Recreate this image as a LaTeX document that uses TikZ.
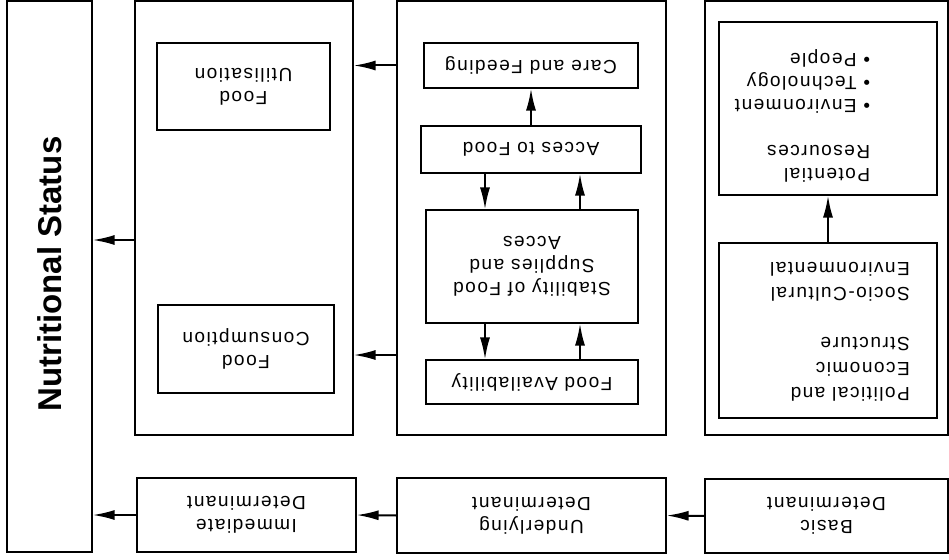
\documentclass[tikz,border=0pt]{standalone}
\usepackage{fontspec}
\setmainfont{Liberation Sans}
\newfontfamily\boxfont{Liberation Sans}[LetterSpace=8]
\usetikzlibrary{positioning,calc,arrows.meta}

\begin{document}
\begin{tikzpicture}[x=1pt, y=-1pt,
  panel/.style={draw=black, line width=1.2pt, inner sep=0pt},
  boxnode/.style={draw=black, line width=1.1pt, inner sep=0pt},
  lbl/.style={font=\boxfont\fontsize{19}{23}\selectfont, rotate=180, inner sep=0pt},
  link/.style={line width=2pt, arrows={-Latex[length=22pt,width=10pt]}}]
\useasboundingbox (0,0) rectangle (949,559);
% outer frames
\node[panel, minimum width=85, minimum height=551] (nutri) at (49.5,276.5) {};
\node[panel, minimum width=218, minimum height=434] (pan1) at (244,218) {};
\node[panel, minimum width=269, minimum height=434] (pan2) at (531.5,218) {};
\node[panel, minimum width=243, minimum height=434] (pan3) at (826.5,218) {};
\node[font=\bfseries\fontsize{33}{36}\selectfont, rotate=90] (nstext) at (50,274) {Nutritional Status};
% immediate
\node[boxnode, minimum width=173, minimum height=87] (util) at (243.5,86.5) {};
\node[boxnode, minimum width=176, minimum height=88] (cons) at (246,349) {};
\node[lbl, align=center] (utiltext) at (util) {Food\\Utilisation};
\node[lbl, align=center] (constext) at (cons) {Food\\Consumption};
% underlying
\node[boxnode, minimum width=214, minimum height=45] (care) at (531,65.5) {};
\node[boxnode, minimum width=220, minimum height=47] (access) at (531,149.5) {};
\node[boxnode, minimum width=212, minimum height=113] (stab) at (532,266.5) {};
\node[boxnode, minimum width=212, minimum height=44] (avail) at (532,382) {};
\node[lbl] (caretext) at (care) {Care and Feeding};
\node[lbl] (accesstext) at (access) {Acces to Food};
\node[lbl, align=center] (stabtext) at (stab) {Stability of Food\\Supplies and\\Acces};
\node[lbl] (availtext) at (avail) {Food Availability};
% basic
\node[boxnode, minimum width=218, minimum height=173] (potres) at (828,108.5) {};
\node[boxnode, minimum width=218, minimum height=175] (struct) at (828,330.5) {};
\node[lbl, align=left] (potrestext) at (802.5,116) {Potential\\Resources\\[23pt]\textbullet\ Environment\\\textbullet\ Technology\\\textbullet\ People};
\node[lbl, align=left, font=\boxfont\fontsize{19}{25}\selectfont] (structtext) at (840,332) {Political and\\Economic\\Structure\\[25pt]Socio-Cultural\\Environmental};
% determinants
\node[boxnode, minimum width=219, minimum height=74] (immdet) at (246.5,515) {};
\node[boxnode, minimum width=269, minimum height=75] (underdet) at (531.5,515.5) {};
\node[boxnode, minimum width=243, minimum height=74] (basicdet) at (826.5,516) {};
\node[lbl, align=center] (immtext) at (immdet) {Immediate\\Determinant};
\node[lbl, align=center] (undertext) at (underdet) {Underlying\\Determinant};
\node[lbl, align=center] (basictext) at (basicdet) {Basic\\Determinant};
% connectors
\coordinate (rowA) at (0,240);
\coordinate (rowB) at (0,355);
\coordinate (colL) at (485,0);
\coordinate (colR) at (580,0);
\draw[link] (pan1.west |- rowA) -- (nutri.east |- rowA);
\draw[link] (pan2.west |- care) -- (pan1.east |- care);
\draw[link] (pan2.west |- rowB) -- (pan1.east |- rowB);
\draw[link] (access.north) -- (care.south);
\draw[link] (access.south -| colL) -- (stab.north -| colL);
\draw[link] (stab.north -| colR) -- (access.south -| colR);
\draw[link] (stab.south -| colL) -- (avail.north -| colL);
\draw[link] (avail.north -| colR) -- (stab.south -| colR);
\draw[link] (struct.north) -- (potres.south);
\draw[link] (basicdet.west) -- (underdet.east);
\draw[link] (underdet.west) -- (immdet.east);
\draw[link] (immdet.west) -- (nutri.east |- immdet.west);
\end{tikzpicture}
\end{document}
